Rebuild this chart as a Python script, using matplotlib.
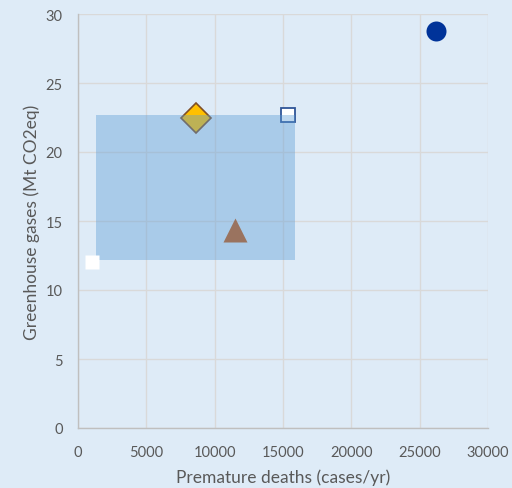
import matplotlib
matplotlib.use("Agg")
import matplotlib.pyplot as plt
from matplotlib.patches import Rectangle

plt.rcParams['font.family'] = ['Lato', 'DejaVu Sans']

# Scenario points: premature deaths (cases/yr) vs greenhouse gases (Mt CO2eq)
circle_pt = (26200, 28.75)
diamond_pt = (8600, 22.45)
open_square_pt = (15400, 22.65)
triangle_pt = (11500, 14.35)
white_square_pt = (1000, 12.0)

# Shaded range box: x range and y range
box_x = (1300, 15900)
box_y = (12.15, 22.7)

x_ticks = [0, 5000, 10000, 15000, 20000, 25000, 30000]
y_ticks = [0, 5, 10, 15, 20, 25, 30]

bg = '#DEEBF7'
text_col = '#595959'

fig = plt.figure(figsize=(5.12, 4.89), dpi=100, facecolor=bg)
ax = fig.add_axes([78 / 512, 60 / 489, 410 / 512, 414 / 489], facecolor=bg)

ax.set_xlim(0, 30000)
ax.set_ylim(0, 30)
ax.set_xticks(x_ticks)
ax.set_yticks(y_ticks)
ax.set_xticklabels([str(t) for t in x_ticks])
ax.set_yticklabels([str(t) for t in y_ticks])

ax.grid(True, color='#D9D9D9', linewidth=1.0, zorder=0)
ax.set_axisbelow(True)
for side in ['top', 'right']:
    ax.spines[side].set_visible(False)
for side in ['left', 'bottom']:
    ax.spines[side].set_color('#BFBFBF')
    ax.spines[side].set_linewidth(1.0)
ax.tick_params(length=0, colors=text_col, labelsize=10.5)
ax.tick_params(axis='x', pad=12)
ax.tick_params(axis='y', pad=11)

# Markers under the shaded box
ax.plot([diamond_pt[0]], [diamond_pt[1]], linestyle='none', marker='D', markersize=15,
        markerfacecolor='#FFC000', markeredgecolor='#7F4F27', markeredgewidth=1.2, zorder=2)
ax.plot([open_square_pt[0]], [open_square_pt[1]], linestyle='none', marker='s', markersize=10.5,
        markerfacecolor='white', markeredgecolor='#2F5597', markeredgewidth=1.3, zorder=2)
ax.plot([triangle_pt[0]], [triangle_pt[1]], linestyle='none', marker='^', markersize=17.5,
        markerfacecolor='#C55A11', markeredgecolor='none', zorder=2)

# Shaded range box
ax.add_patch(Rectangle((box_x[0], box_y[0]), box_x[1] - box_x[0], box_y[1] - box_y[0],
                       facecolor='#5B9BD5', alpha=0.4, edgecolor='none', zorder=3))

# Markers above the shaded box
ax.plot([white_square_pt[0]], [white_square_pt[1]], linestyle='none', marker='s', markersize=10,
        markerfacecolor='white', markeredgecolor='none', zorder=4)
ax.plot([circle_pt[0]], [circle_pt[1]], linestyle='none', marker='o', markersize=14.4,
        markerfacecolor='#003399', markeredgecolor='none', zorder=4)

ax.set_xlabel('Premature deaths (cases/yr)', color=text_col, fontsize=12.5, labelpad=7)
ax.set_ylabel('Greenhouse gases (Mt CO2eq)', color=text_col, fontsize=12.5, labelpad=4)

fig.savefig('out.png', dpi=100, facecolor=bg)
